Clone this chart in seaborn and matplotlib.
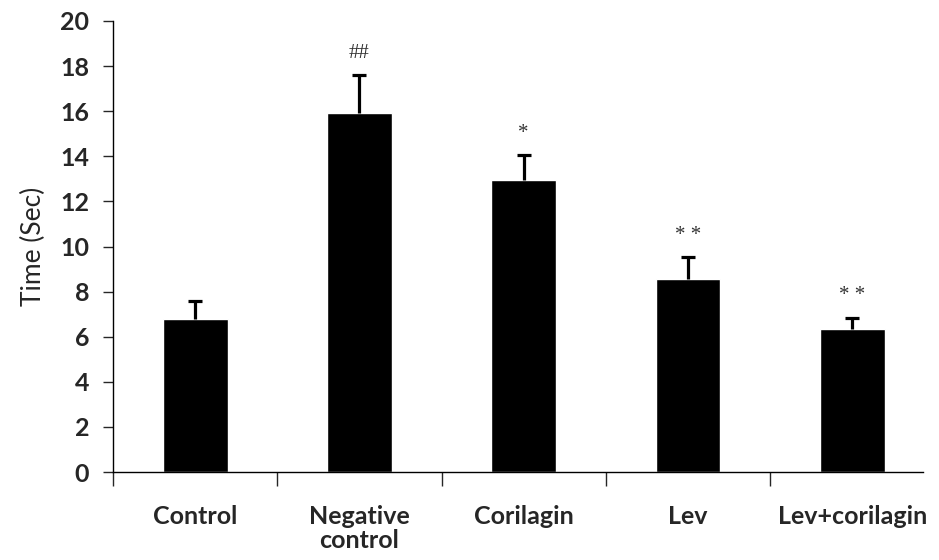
import matplotlib
matplotlib.use("Agg")
import matplotlib.pyplot as plt
import numpy as np
import pandas as pd
import seaborn as sns

groups = ["Control", "Negative\ncontrol", "Corilagin", "Lev", "Lev+corilagin"]
mean_time = [6.8, 15.9, 12.95, 8.57, 6.35]
sd_time = [0.8, 1.7, 1.1, 0.95, 0.5]
marks = ["", "##", "*", "* *", "* *"]

df = pd.DataFrame({"group": groups, "time": mean_time})

sns.set_style("white")
plt.rcParams["font.family"] = ["Lato", "DejaVu Sans"]

fig = plt.figure(figsize=(9.39, 5.6), dpi=100)
ax = fig.add_axes([0.1203, 0.157, 0.8626, 0.8055])

sns.barplot(data=df, x="group", y="time", color="black", width=0.395,
            errorbar=None, saturation=1, ax=ax)
x = np.arange(len(groups))
_, caps, _ = ax.errorbar(x, mean_time, yerr=[np.zeros(len(sd_time)), sd_time],
                         fmt="none", ecolor="black", elinewidth=2.3,
                         capsize=5, capthick=2.3)
caps[0].set_visible(False)  # no cap on the bar top

# significance marks above error bars
for xi, m, s, mk in zip(x, mean_time, sd_time, marks):
    if mk:
        ax.text(xi, m + s + 0.55, mk, ha="center", va="bottom", fontsize=15,
                family=["Liberation Serif"], color="#333333")

ax.set_xlim(-0.5, 4.43)
ax.set_ylim(0, 20)
ax.set_yticks(range(0, 21, 2))
ax.set_xticks(x)
ax.set_xticklabels(groups, fontsize=18, fontweight="bold", linespacing=1.05)
ax.set_xticks(np.arange(-0.5, 4.0, 1.0), minor=True)
ax.tick_params(axis="x", which="major", length=0, pad=24)
ax.tick_params(axis="x", which="minor", length=10, width=1, direction="out", bottom=True)
ax.tick_params(axis="y", length=7, width=1, direction="out", left=True, labelsize=18, pad=10)
for lbl in ax.get_yticklabels():
    lbl.set_fontweight("bold")

ax.set_xlabel("")
ax.set_ylabel("Time (Sec)", fontsize=19, labelpad=10)

sns.despine(ax=ax, top=True, right=True)
for sp in ["left", "bottom"]:
    ax.spines[sp].set_color("black")
    ax.spines[sp].set_linewidth(1)

fig.savefig("out.png", dpi=100, facecolor="white")
